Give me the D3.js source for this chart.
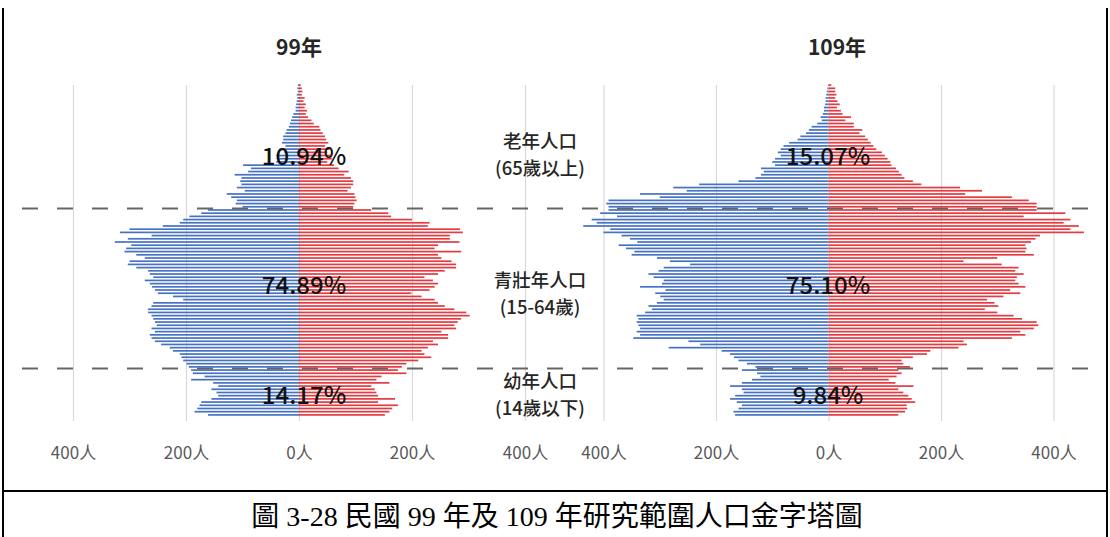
<!DOCTYPE html>
<html><head><meta charset="utf-8">
<script src="https://cdn.jsdelivr.net/npm/d3@7"></script>
<style>
html,body{margin:0;padding:0;background:#fff;}
svg{display:block;}
text{font-family:"Noto Sans CJK TC","Noto Sans",sans-serif;}
</style></head>
<body>
<svg id="chart" width="1110" height="537"></svg>
<script>
// ---- data (ages 0..103) ----
const ages = d3.range(0, 104);
const years = ["99年", "109年"];
const male99 = [161,185,180,176,173,155,143,146,155,143,152,191,167,188,191,
 195,199,205,208,211,223,229,244,255,261,264,255,261,252,255,258,261,267,267,261,258,205,223,250,255,260,264,273,258,264,267,288,303,300,273,288,
 309,306,297,326,303,261,317,300,241,211,205,194,173,161,
 100,112,110,120,128,96,110,102,104,102,114,90,85,99,40,36,40,26,34,24,30,28,28,24,22,18,16,14,12,10,6,6,5,4,3,4,2,3,2];
const female99 = [152,160,165,175,140,170,140,137,134,128,160,137,146,190,175,
 182,190,211,234,222,217,228,246,237,264,264,252,278,275,281,287,302,296,275,258,246,240,217,199,231,240,246,237,222,246,258,278,278,270,252,246,
 287,240,246,284,267,267,290,285,228,231,200,163,158,128,
 96,98,102,100,98,86,92,96,96,92,80,88,70,62,50,58,56,50,54,46,52,48,46,42,38,36,26,22,16,12,14,10,12,8,10,5,6,5,3];
const male109 = [166,169,160,154,163,175,166,151,154,175,154,136,121,127,154,
 130,145,160,168,175,190,284,228,249,347,335,341,335,338,341,338,341,326,314,320,305,293,299,308,290,335,296,293,311,320,302,293,246,282,305,350,
 345,360,373,340,353,368,400,388,436,412,421,376,406,391,
 391,395,391,300,335,252,276,230,160,130,120,115,120,95,100,95,85,90,85,80,70,55,50,40,35,30,20,12,14,10,8,8,6,5,5,4,3,2,1];
const female109 = [124,136,140,139,154,148,142,133,124,151,119,107,121,130,124,
 145,133,130,150,175,181,231,246,240,326,350,341,365,373,370,344,329,300,278,302,295,282,311,341,323,350,338,332,335,347,332,338,308,240,300,365,
 350,352,350,360,368,376,454,430,445,418,430,347,421,370,
 370,370,356,326,243,273,234,165,150,135,130,125,120,112,110,105,100,95,85,80,75,70,65,55,60,45,45,30,40,25,22,15,20,16,12,14,12,12,5];
const shares99 = ["10.94%", "74.89%", "14.17%"];
const shares109 = ["15.07%", "75.10%", "9.84%"];
const groupLabels = [["老年人口","(65歲以上)"],["青壯年人口","(15-64歲)"],["幼年人口","(14歲以下)"]];
const tickValues = [-400, -200, 0, 200, 400];
const boundaries = [65, 15];
const caption = "圖 3-28 民國 99 年及 109 年研究範圍人口金字塔圖";

// ---- layout ----
const svg = d3.select("#chart");
svg.append("rect").attr("width",1110).attr("height",537).attr("fill","#fff");

const yBottom = 416.5, yTop = 83.5;
const yLin = d3.scaleLinear().domain([0, ages.length]).range([yBottom, yTop]);
const yBand = d3.scaleBand().domain(ages).range([yBottom, yTop]).paddingInner(0.47).paddingOuter(0.235);

const panels = [
  {title: years[0], male: male99, female: female99, shares: shares99, x: d3.scaleLinear().domain([-400,400]).range([73,525]), titleX: 299, pctX: 304},
  {title: years[1], male: male109, female: female109, shares: shares109, x: d3.scaleLinear().domain([-400,400]).range([603.5,1053.5]), titleX: 837, pctX: 828}
];

const maleColor = "#4672c4", femaleColor = "#e53a40";

panels.forEach(p => {
  const g = svg.append("g");
  // grid + axis labels
  const axis = d3.axisBottom(p.x).tickValues(tickValues)
    .tickFormat(d => Math.abs(d) + "人").tickSize(-(421 - 85)).tickPadding(26);
  const ax = g.append("g").attr("transform", "translate(0,421)").call(axis);
  ax.select(".domain").remove();
  ax.selectAll(".tick line").attr("stroke", "#d9d9d9").attr("stroke-width", 1.2);
  ax.selectAll(".tick text").attr("fill", "#595959").style("font-size", "17px")
    .style("font-family", "'Noto Sans CJK TC', sans-serif");

  // bars
  g.append("g").selectAll("rect.m").data(ages).join("rect")
    .attr("x", a => p.x(-p.male[a])).attr("width", a => p.x(0) - p.x(-p.male[a]))
    .attr("y", a => yBand(a)).attr("height", yBand.bandwidth()).attr("fill", maleColor);
  g.append("g").selectAll("rect.f").data(ages).join("rect")
    .attr("x", p.x(0)).attr("width", a => p.x(p.female[a]) - p.x(0))
    .attr("y", a => yBand(a)).attr("height", yBand.bandwidth()).attr("fill", femaleColor);

  // title
  g.append("text").attr("x", p.titleX).attr("y", 55).attr("text-anchor", "middle")
    .style("font-size", "21px").style("font-weight", "bold").attr("fill", "#262626").text(p.title);
});

// dashed boundaries
svg.selectAll("line.dash").data(boundaries).join("line")
  .attr("x1", 22).attr("x2", 1100)
  .attr("y1", d => yLin(d)).attr("y2", d => yLin(d))
  .attr("stroke", "#666").attr("stroke-width", 2).attr("stroke-dasharray", "16,19");

// percentages
const pctY = [156, 285, 395];
panels.forEach(p => {
  svg.selectAll(null).data(p.shares).join("text")
    .attr("x", p.pctX).attr("y", (d, i) => pctY[i] + 8.5).attr("text-anchor", "middle")
    .style("font-size", "24px").style("font-weight", "500").attr("fill", "#111").text(d => d);
});

// group labels in the middle (two lines each)
const grpY = [[141,168],[280,307],[381,408]];
groupLabels.forEach((lbl, i) => {
  lbl.forEach((t, j) => {
    svg.append("text").attr("x", 540).attr("y", grpY[i][j] + 6.5).attr("text-anchor", "middle")
      .style("font-size", "18.5px").style("font-weight", "500").attr("fill", "#262626").text(t);
  });
});

// frame and caption
svg.append("line").attr("x1", 3).attr("x2", 3).attr("y1", 8).attr("y2", 537).attr("stroke", "#000").attr("stroke-width", 2);
svg.append("line").attr("x1", 1107).attr("x2", 1107).attr("y1", 8).attr("y2", 537).attr("stroke", "#000").attr("stroke-width", 2);
svg.append("line").attr("x1", 3).attr("x2", 1107).attr("y1", 491).attr("y2", 491).attr("stroke", "#000").attr("stroke-width", 2);
svg.append("text").attr("x", 557).attr("y", 526).attr("text-anchor", "middle")
  .style("font-size", "28px").style("font-family", "'Liberation Serif','Noto Sans CJK TC',serif")
  .attr("fill", "#000").text(caption);
</script>
</body></html>
